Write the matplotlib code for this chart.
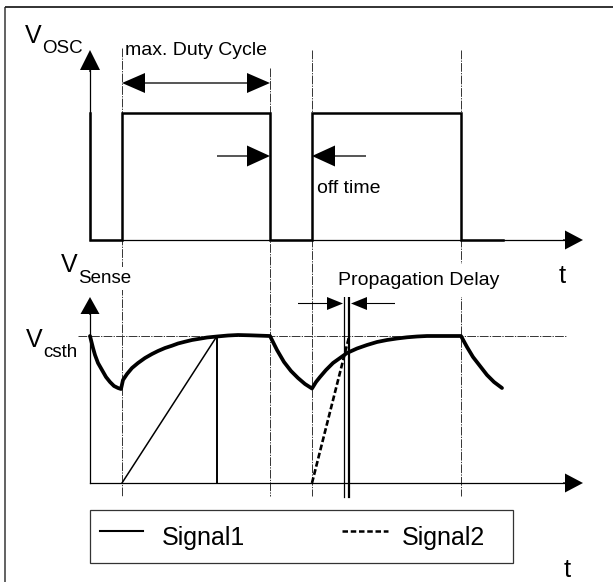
import matplotlib
matplotlib.use('Agg')
import matplotlib.pyplot as plt
from matplotlib.patches import Rectangle

W, H = 613, 582

# ---------------- data (pixel units) ----------------
# oscillator output (square wave)
osc_t = [90, 90, 122, 122, 270, 270, 312, 312, 461, 461, 503]
osc_v = [113, 240, 240, 113, 113, 240, 240, 113, 113, 240, 240]

# switching instants -> dashed guide lines
edge_t = [122, 270, 312, 461]
edge_top = [48, 68, 50, 50]
guide_bottom = 496

# axes
axis_t0, axis_t1 = 90, 583
osc_axis_y, osc_axis_top = 240, 50
sense_axis_y, sense_axis_top = 483, 297
vcsth_level = 336
vcsth_span = [78, 567]

# sense voltage curve (thick)
sense_t = [90, 93, 95, 98, 102, 106, 110, 114, 118, 121,
           123, 127, 132, 138, 145, 152, 158, 165, 172, 178, 185, 192, 198, 207,
           217, 228, 238, 250, 270,
           277, 284, 291, 298, 305, 312,
           316, 320, 326, 333, 340, 347, 357, 367, 377, 387, 397, 407, 417, 427,
           440, 461,
           467, 473, 480, 487, 494, 502]
sense_v = [336, 348, 355, 363, 370, 377, 382, 386, 388, 389,
           380, 374, 368, 363, 358, 354, 351, 348, 345.7, 343.5, 341.7, 340, 339, 337.5,
           336.5, 335.5, 335, 335.3, 336,
           350, 362, 371, 378, 384, 388.5,
           382, 377, 370, 363, 358, 353, 348.5, 345, 342, 340, 338.5, 337.3, 336.5, 336,
           336, 336,
           347, 357, 366, 375, 382, 388]

# Signal1 ramp and its termination
ramp1_t = [122, 217]
ramp1_v = [483, 336]
stop1_t = [217, 217]
stop1_v = [336, 483]

# Signal2 ramp (dashed) and propagation-delay markers
ramp2_t = [312, 349]
ramp2_v = [483, 337]
delay_t = [344, 349]
delay_top, delay_bottom = 296, 497

# annotation arrows
duty_y, duty_t = 83, [122, 270]
off_y = 156
off_arrow_r = [217, 270]
off_arrow_l = [366, 312]
prop_y = 303.5
prop_arrow_r = [298, 343]
prop_arrow_l = [395, 351]

legend_box = [90, 510, 423, 53]
legend_labels = ["Signal1", "Signal2"]

# ---------------- drawing ----------------
fig = plt.figure(figsize=(W / 100, H / 100), dpi=100)
ax = fig.add_axes([0, 0, 1, 1])
ax.set_xlim(0, W)
ax.set_ylim(H, 0)
ax.axis('off')

FONT = 'Liberation Sans'
guide_style = dict(color='#333333', lw=0.7, ls=(0, (9, 1.3, 1.3, 1.3)))

# frame
ax.plot([5, 5], [H, 7], color='#555555', lw=1.3, solid_capstyle='butt')
ax.plot([5, W], [7, 7], color='#222222', lw=1.3, solid_capstyle='butt')

# guide lines
for t, top in zip(edge_t, edge_top):
    ax.plot([t, t], [top, guide_bottom], zorder=1, **guide_style)
ax.plot(vcsth_span, [vcsth_level, vcsth_level], zorder=1, **guide_style)


def arrow(x0, y0, x1, y1, hw=20, hl=22, w=1.3):
    ax.arrow(x0, y0, x1 - x0, y1 - y0, width=w, head_width=hw, head_length=hl,
             length_includes_head=True, fc='black', ec='black', lw=0, zorder=4)


# axes with arrow heads
ax.plot([axis_t0, axis_t1 - 15], [osc_axis_y, osc_axis_y], color='black', lw=0.9, zorder=2)
arrow(axis_t1 - 20, osc_axis_y, axis_t1, osc_axis_y, hw=19, hl=18)
ax.plot([axis_t0, axis_t1 - 15], [sense_axis_y, sense_axis_y], color='black', lw=0.9, zorder=2)
arrow(axis_t1 - 20, sense_axis_y, axis_t1, sense_axis_y, hw=19, hl=18)
ax.plot([axis_t0, axis_t0], [osc_axis_y, osc_axis_top + 15], color='black', lw=0.9, zorder=2)
arrow(axis_t0, osc_axis_top + 22, axis_t0, osc_axis_top, hw=20, hl=20)
ax.plot([axis_t0, axis_t0], [sense_axis_y, sense_axis_top + 12], color='black', lw=0.9, zorder=2)
arrow(axis_t0, sense_axis_top + 18, axis_t0, sense_axis_top, hw=19, hl=17)

# oscillator waveform
ax.plot(osc_t, osc_v, color='black', lw=1.8, solid_joinstyle='miter', zorder=3)

# sense waveform
ax.plot(sense_t, sense_v, color='black', lw=2.7, solid_joinstyle='round',
        solid_capstyle='round', zorder=3)
ax.plot(ramp1_t, ramp1_v, color='black', lw=1.1, zorder=3)
ax.plot(stop1_t, stop1_v, color='black', lw=1.4, zorder=3)
ax.plot(ramp2_t, ramp2_v, color='black', lw=1.9, ls=(0, (2.2, 1.0)), zorder=3)
ax.plot([delay_t[0]] * 2, [delay_top, delay_bottom], color='black', lw=0.9, zorder=3)
ax.plot([delay_t[1]] * 2, [delay_top, delay_bottom], color='black', lw=1.6, zorder=3)

# max duty cycle double arrow
mid = (duty_t[0] + duty_t[1]) / 2
arrow(mid, duty_y, duty_t[0], duty_y, hw=20, hl=23)
arrow(mid, duty_y, duty_t[1], duty_y, hw=20, hl=23)
# off time arrows
arrow(off_arrow_r[0], off_y, off_arrow_r[1], off_y, hw=21, hl=23)
arrow(off_arrow_l[0], off_y, off_arrow_l[1], off_y, hw=21, hl=23)
# propagation delay arrows
arrow(prop_arrow_r[0], prop_y, prop_arrow_r[1], prop_y, hw=13, hl=16, w=1.1)
arrow(prop_arrow_l[0], prop_y, prop_arrow_l[1], prop_y, hw=13, hl=16, w=1.1)

# texts
def txt(x, y, s, size, **kw):
    ax.text(x, y, s, fontsize=size, family=FONT, ha='left', va='baseline',
            color='black', zorder=5, **kw)

txt(25, 43, "V", 18)
txt(42, 53, "OSC", 13.5)
txt(61, 272, "V", 18)
txt(78, 283, "Sense", 13.5, bbox=dict(fc='white', ec='none', pad=2))
txt(26, 347, "V", 18)
txt(43, 357, "csth", 13.5)
txt(125, 55, "max. Duty Cycle", 14)
txt(317, 193, "off time", 14)
txt(338, 285, "Propagation Delay", 14, bbox=dict(fc='white', ec='none', pad=6))
txt(559, 283, "t", 18.5)
txt(564, 577, "t", 18.5)

# legend
bx, by, bw, bh = legend_box
ax.add_patch(Rectangle((bx, by), bw, bh, fill=False, ec='#333333', lw=0.9, zorder=4))
ax.plot([100, 143], [531, 531], color='black', lw=1.5, zorder=5)
ax.plot([342, 388], [531, 531], color='black', lw=1.8, ls=(0, (2.2, 1.1)), zorder=5)
txt(162, 545, legend_labels[0], 18)
txt(402, 545, legend_labels[1], 18)

fig.savefig('out.png', dpi=100)
